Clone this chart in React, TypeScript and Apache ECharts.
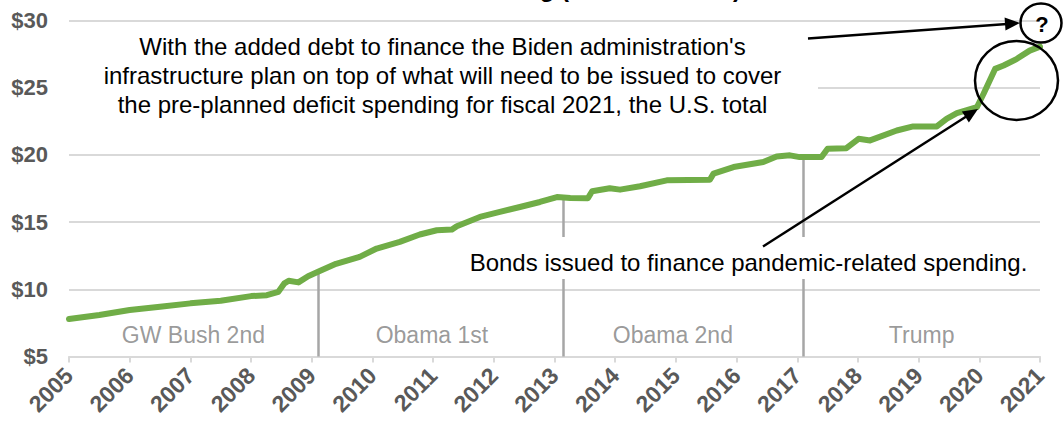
import React, { useEffect, useRef } from "react";
import * as echarts from "echarts";

// ---- data ----
const debtYears = [
  2005.0, 2005.5, 2006.0, 2006.5, 2007.0, 2007.5, 2008.0, 2008.26, 2008.45, 2008.55,
  2008.62, 2008.78, 2008.94, 2009.14, 2009.4, 2009.79, 2010.07, 2010.45, 2010.78, 2011.06,
  2011.31, 2011.39, 2011.77, 2012.1, 2012.43, 2012.76, 2013.04, 2013.26, 2013.55, 2013.62,
  2013.91, 2014.08, 2014.41, 2014.85, 2015.56, 2015.62, 2015.95, 2016.44, 2016.66, 2016.88,
  2017.04, 2017.4, 2017.5, 2017.81, 2018.01, 2018.2, 2018.64, 2018.91, 2019.3, 2019.46,
  2019.63, 2019.96, 2020.07, 2020.26, 2020.4, 2020.62, 2020.83, 2021.0,
];
const debtTrillions = [
  7.79, 8.09, 8.46, 8.7, 8.96, 9.15, 9.5, 9.57, 9.82, 10.45,
  10.64, 10.52, 10.98, 11.38, 11.9, 12.42, 13.04, 13.53, 14.08, 14.4,
  14.45, 14.7, 15.39, 15.76, 16.13, 16.5, 16.87, 16.8, 16.78, 17.3,
  17.52, 17.42, 17.67, 18.11, 18.16, 18.61, 19.1, 19.47, 19.89, 19.97,
  19.84, 19.84, 20.46, 20.5, 21.2, 21.08, 21.82, 22.12, 22.12, 22.69,
  23.11, 23.55, 24.55, 26.4, 26.65, 27.15, 27.76, 28.06,
];
const termStartYears = [2009.1, 2013.15, 2017.1];
const termNames = ["GW Bush 2nd", "Obama 1st", "Obama 2nd", "Trump"];
const termLabelYears = [2007.05, 2010.98, 2014.95, 2019.05];
const termLabelLevel = 6.62;
const xMin = 2005, xMax = 2021, xStep = 1;
const yMin = 5, yMax = 30, yStep = 5;

const titleText = "Total Public Debt Outstanding (in trillions of $)";
const noteLines = [
  "With the added debt to finance the Biden administration's",
  "infrastructure plan on top of what will need to be issued to cover",
  "the pre-planned deficit spending for fiscal 2021, the U.S. total",
];
const bondsText = "Bonds issued to finance pandemic-related spending.";

const FONT = "'Liberation Sans', Arial, sans-serif";

function valueAt(t: number): number {
  for (let i = 1; i < debtYears.length; i++) {
    if (t <= debtYears[i]) {
      const a = debtYears[i - 1], b = debtYears[i];
      const f = (t - a) / (b - a);
      return debtTrillions[i - 1] + f * (debtTrillions[i] - debtTrillions[i - 1]);
    }
  }
  return debtTrillions[debtTrillions.length - 1];
}

function arrow(x1: number, y1: number, x2: number, y2: number) {
  const dx = x2 - x1, dy = y2 - y1;
  const len = Math.hypot(dx, dy);
  const ux = dx / len, uy = dy / len;
  const hl = 15, hw = 6.5;
  const bx = x2 - ux * hl, by = y2 - uy * hl;
  return [
    {
      type: "line",
      z: 110,
      shape: { x1, y1, x2: bx + ux * 2, y2: by + uy * 2 },
      style: { stroke: "#000", lineWidth: 2.5 },
    },
    {
      type: "polygon",
      z: 111,
      shape: {
        points: [
          [x2, y2],
          [bx - uy * hw, by + ux * hw],
          [bx + uy * hw, by - ux * hw],
        ],
      },
      style: { fill: "#000" },
    },
  ];
}

export default function App() {
  const ref = useRef<HTMLDivElement>(null);

  useEffect(() => {
    if (!ref.current) return;
    const chart = echarts.init(ref.current, undefined, { renderer: "svg" });

    const lineData = debtYears.map((y, i) => [y, debtTrillions[i]]);
    const termLines = termStartYears.map((t) => ({
      coords: [
        [t, yMin],
        [t, valueAt(t)],
      ],
    }));
    const labelData = termLabelYears.map((t, i) => ({
      value: [t, termLabelLevel],
      name: termNames[i],
    }));

    chart.setOption({
      animation: false,
      backgroundColor: "#ffffff",
      grid: { left: 69, right: 23, top: 20.5, bottom: 71.4, containLabel: false },
      xAxis: {
        type: "value",
        min: xMin,
        max: xMax,
        interval: xStep,
        axisLine: { show: true, lineStyle: { color: "#D9D9D9", width: 2 } },
        axisTick: { show: true, length: 6, lineStyle: { color: "#D9D9D9", width: 2 } },
        splitLine: { show: false },
        axisLabel: {
          rotate: 45,
          margin: 15,
          color: "#595959",
          fontFamily: FONT,
          fontWeight: "bold",
          fontSize: 23,
          formatter: (v: number) => String(Math.round(v)),
        },
      },
      yAxis: {
        type: "value",
        min: yMin,
        max: yMax,
        interval: yStep,
        axisLine: { show: false },
        axisTick: { show: false },
        splitLine: { show: true, lineStyle: { color: "#D9D9D9", width: 2 } },
        axisLabel: {
          margin: 21,
          color: "#595959",
          fontFamily: FONT,
          fontWeight: "bold",
          fontSize: 22,
          formatter: (v: number) => "$" + v,
        },
      },
      series: [
        {
          type: "lines",
          coordinateSystem: "cartesian2d",
          z: 1,
          silent: true,
          lineStyle: { color: "#A6A6A6", width: 2.5, opacity: 1 },
          data: termLines,
        },
        {
          type: "line",
          z: 3,
          showSymbol: false,
          symbol: "none",
          lineStyle: { color: "#70AD47", width: 6, join: "round", cap: "round" },
          data: lineData,
        },
        {
          type: "scatter",
          z: 2,
          symbolSize: 0,
          silent: true,
          label: {
            show: true,
            position: "inside",
            formatter: (p: any) => p.name,
            color: "#7F7F7F",
            fontFamily: FONT,
            fontSize: 23,
          },
          data: labelData,
        },
      ],
      graphic: [
        {
          type: "text",
          z: 120,
          x: 741,
          y: -12,
          style: {
            text: titleText,
            fill: "#000",
            font: `bold 24px ${FONT}`,
            textAlign: "right",
            textVerticalAlign: "middle",
          },
        },
        {
          type: "rect",
          z: 100,
          shape: { x: 66, y: 28, width: 752, height: 92 },
          style: { fill: "#ffffff" },
        },
        {
          type: "text",
          z: 101,
          x: 442.5,
          y: 31.5,
          style: {
            text: noteLines.join("\n"),
            fill: "#000",
            font: `24px ${FONT}`,
            lineHeight: 29,
            textAlign: "center",
            textVerticalAlign: "top",
          },
        },
        {
          type: "rect",
          z: 100,
          shape: { x: 462, y: 237, width: 578, height: 42 },
          style: { fill: "#ffffff" },
        },
        {
          type: "text",
          z: 101,
          x: 748.5,
          y: 262,
          style: {
            text: bondsText,
            fill: "#000",
            font: `24px ${FONT}`,
            textAlign: "center",
            textVerticalAlign: "middle",
          },
        },
        ...arrow(763, 246.5, 978, 109),
        ...arrow(808, 38.5, 1020, 23),
        {
          type: "ellipse",
          z: 112,
          shape: { cx: 1016.5, cy: 80.5, rx: 41.5, ry: 39.5 },
          style: { fill: "none", stroke: "#000", lineWidth: 2.5 },
        },
        {
          type: "ellipse",
          z: 112,
          shape: { cx: 1041, cy: 23, rx: 20.5, ry: 19.5 },
          style: { fill: "none", stroke: "#000", lineWidth: 2.5 },
        },
        {
          type: "text",
          z: 113,
          x: 1042,
          y: 24,
          style: {
            text: "?",
            fill: "#000",
            font: `bold 22px ${FONT}`,
            textAlign: "center",
            textVerticalAlign: "middle",
          },
        },
      ],
    });

    return () => chart.dispose();
  }, []);

  return (
    <div
      ref={ref}
      style={{ position: "fixed", left: 0, top: 0, width: 1063, height: 428 }}
    />
  );
}
